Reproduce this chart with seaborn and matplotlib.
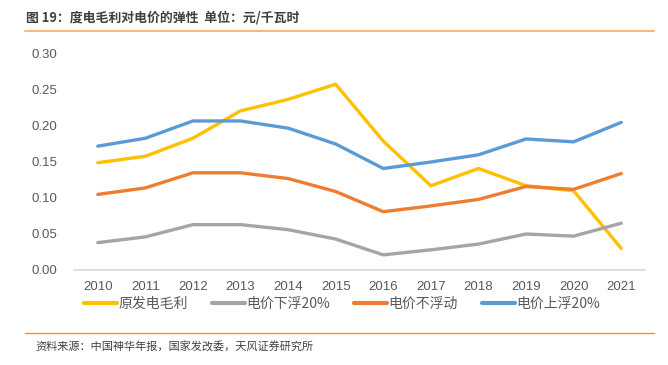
import matplotlib
matplotlib.use("Agg")
import matplotlib.pyplot as plt
import seaborn as sns
import pandas as pd
from matplotlib.lines import Line2D

years = [2010, 2011, 2012, 2013, 2014, 2015, 2016, 2017, 2018, 2019, 2020, 2021]
orig_margin = [0.149, 0.158, 0.183, 0.221, 0.237, 0.258, 0.179, 0.117, 0.141, 0.117, 0.110, 0.030]
down20 = [0.038, 0.046, 0.063, 0.063, 0.056, 0.043, 0.021, 0.028, 0.036, 0.050, 0.047, 0.065]
flat = [0.105, 0.114, 0.135, 0.135, 0.127, 0.109, 0.081, 0.089, 0.098, 0.116, 0.112, 0.134]
up20 = [0.172, 0.183, 0.207, 0.207, 0.197, 0.175, 0.141, 0.150, 0.160, 0.182, 0.178, 0.205]
series_names = ["原发电毛利", "电价下浮20%", "电价不浮动", "电价上浮20%"]
colors = ["#FFC000", "#A5A5A5", "#ED7D31", "#5B9BD5"]
yticks = [0.00, 0.05, 0.10, 0.15, 0.20, 0.25, 0.30]

title = "图 19：度电毛利对电价的弹性  单位：元/千瓦时"
source = "资料来源：中国神华年报，国家发改委，天风证券研究所"

frames = []
for name, vals in zip(series_names, [orig_margin, down20, flat, up20]):
    frames.append(pd.DataFrame({"year": years, "value": vals, "series": name}))
df = pd.concat(frames, ignore_index=True)

sns.set_theme(style="white")
plt.rcParams["font.family"] = ["Noto Sans CJK SC", "DejaVu Sans"]

fig = plt.figure(figsize=(6.68, 3.65), dpi=100)
ax = fig.add_axes([74 / 668, 1 - 270 / 365, (645 - 74) / 668, (270 - 54) / 365])

sns.lineplot(data=df, x="year", y="value", hue="series", hue_order=series_names,
             palette=colors, linewidth=2.4, ax=ax, legend=False)

ax.set_xlim(years[0] - 0.5, years[-1] + 0.5)
ax.set_ylim(0, 0.30)
ax.set_xticks(years)
ax.set_xticklabels([str(y) for y in years], family=["Liberation Sans"])
ax.set_yticks(yticks)
ax.set_yticklabels([f"{v:.2f}" for v in yticks], family=["Liberation Sans"])
ax.tick_params(axis="both", length=0, labelsize=9.5, colors="#595959")
ax.tick_params(axis="y", pad=12)
ax.tick_params(axis="x", pad=8)
ax.set_xlabel("")
ax.set_ylabel("")
for s in ["top", "right", "left"]:
    ax.spines[s].set_visible(False)
ax.spines["bottom"].set_color("#D9D9D9")
ax.spines["bottom"].set_linewidth(1.2)
ax.grid(False)

handles = [Line2D([0], [0], color=c, linewidth=3) for c in colors]
fig.legend(handles, series_names, loc="center", bbox_to_anchor=(342 / 668, 1 - 304 / 365),
           ncol=4, frameon=False, fontsize=10, handlelength=2.4, handletextpad=0.1,
           columnspacing=1.7, labelcolor="#595959")

fig.text(26 / 668, 1 - 18 / 365, title, fontsize=9.3, fontweight="bold",
         color="#404040", va="center", ha="left")
fig.add_artist(Line2D([25 / 668, 654 / 668], [1 - 30.5 / 365, 1 - 30.5 / 365],
                      color="#F7B77F", linewidth=1.5))
fig.add_artist(Line2D([25 / 668, 654 / 668], [1 - 333 / 365, 1 - 333 / 365],
                      color="#E8914A", linewidth=1.0))
fig.text(35 / 668, 1 - 347 / 365, source, fontsize=8, color="#404040",
         va="center", ha="left")

fig.savefig("out.png", dpi=100)
